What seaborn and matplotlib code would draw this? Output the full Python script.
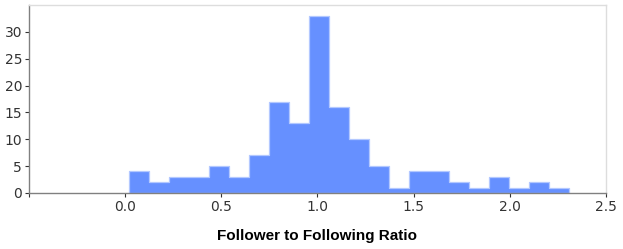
import numpy as np
import pandas as pd
import matplotlib
matplotlib.use("Agg")
import matplotlib.pyplot as plt
import seaborn as sns

# histogram counts, 22 bins of ~0.104 width
counts = [4, 2, 3, 3, 5, 3, 7, 17, 13, 33, 16, 10, 5, 1, 4, 4, 2, 1, 3, 1, 2, 1]
bin_start = 0.019
bin_stop = 2.309
x_ticks = [-0.5, 0.0, 0.5, 1.0, 1.5, 2.0, 2.5]
x_tick_labels = ['', '0.0', '0.5', '1.0', '1.5', '2.0', '2.5']
y_ticks = [0, 5, 10, 15, 20, 25, 30]

edges = np.linspace(bin_start, bin_stop, len(counts) + 1)
df = pd.DataFrame({'ratio': (edges[:-1] + edges[1:]) / 2, 'n': counts})

sns.set_style("white")
plt.rcParams['font.family'] = ['DejaVu Sans']

fig = plt.figure(figsize=(6.23, 2.49), dpi=100)
ax = fig.add_axes([0.0466, 0.225, 0.926, 0.755])

sns.histplot(data=df, x='ratio', weights='n', bins=list(edges), ax=ax,
             element='step', color='#6690ff', alpha=1.0,
             edgecolor='#b3c8ff', linewidth=0.9)

ax.set_xlim(-0.5, 2.5)
ax.set_ylim(0, 35)
ax.set_xticks(x_ticks)
ax.set_xticklabels(x_tick_labels)
ax.set_yticks(y_ticks)
ax.tick_params(axis='both', which='both', direction='out', length=3, width=0.8,
               colors='#333333', labelsize=10, pad=2, bottom=True, left=True)
ax.set_ylabel('')
ax.set_xlabel('Follower to Following Ratio', fontsize=11, fontweight='bold',
              family=['Liberation Sans', 'DejaVu Sans'], labelpad=11, color='black')

for side in ['left', 'bottom']:
    ax.spines[side].set_color('#808080')
    ax.spines[side].set_linewidth(1.0)
for side in ['top', 'right']:
    ax.spines[side].set_color('#dddddd')
    ax.spines[side].set_linewidth(1.0)

fig.savefig('out.png', dpi=100)
